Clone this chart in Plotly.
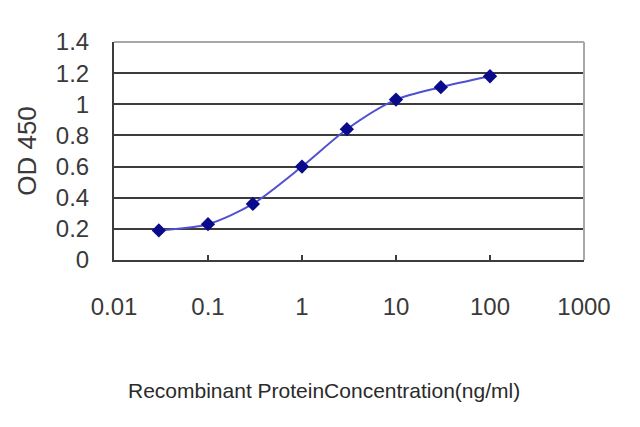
"""
ELISA standard curve - OD 450 vs recombinant protein concentration (log x)
"""
import plotly.graph_objects as go

# region Data
CONC_NGML = [0.03, 0.1, 0.3, 1, 3, 10, 30, 100]
OD_450    = [0.19, 0.23, 0.36, 0.60, 0.84, 1.03, 1.11, 1.18]

X_TICKS = [0.01, 0.1, 1, 10, 100, 1000]
X_TICK_TEXT = ["0.01", "0.1", "1", "10", "100", "1000"]
Y_TICKS = [0, 0.2, 0.4, 0.6, 0.8, 1.0, 1.2, 1.4]
Y_TICK_TEXT = ["0", "0.2", "0.4", "0.6", "0.8", "1", "1.2", "1.4"]
# endregion

FONT = "Liberation Sans Narrow, Arial, Liberation Sans, sans-serif"
TEXT_COLOR = "#3a3a3a"
GRID_COLOR = "#3c3c3c"
LINE_COLOR = "#5050d0"
MARKER_COLOR = "#0a0a8c"

fig = go.Figure()

fig.add_trace(go.Scatter(
    x=CONC_NGML,
    y=OD_450,
    mode="lines+markers",
    line=dict(color=LINE_COLOR, width=2, shape="spline", smoothing=0.8),
    marker=dict(symbol="diamond", size=11, color=MARKER_COLOR,
                line=dict(width=0)),
    showlegend=False,
    cliponaxis=False,
))

# light gray frame on the top and right
fig.add_shape(type="line", xref="paper", yref="paper", x0=0, x1=1, y0=1, y1=1,
              line=dict(color="#a8a8a8", width=2))
fig.add_shape(type="line", xref="paper", yref="paper", x0=1, x1=1, y0=0, y1=1,
              line=dict(color="#a8a8a8", width=2))

# x axis title sits a little left of the plot centre in the original
fig.add_annotation(
    xref="paper", yref="paper",
    x=0.447, y=-0.60,
    xanchor="center", yanchor="middle",
    text="Recombinant ProteinConcentration(ng/ml)",
    showarrow=False,
    font=dict(size=21, family=FONT, color="#2a2a2a"),
)

fig.update_layout(
    width=640, height=427,
    margin=dict(l=106, r=64, t=34, b=175),
    paper_bgcolor="white",
    plot_bgcolor="white",
    font=dict(family=FONT, color=TEXT_COLOR, size=24),
    xaxis=dict(
        type="log",
        range=[-2, 3],
        tickvals=X_TICKS,
        ticktext=X_TICK_TEXT,
        showgrid=False,
        zeroline=False,
        showline=True, linecolor=GRID_COLOR, linewidth=2,
        ticks="inside", ticklen=5, tickwidth=1.5, tickcolor=GRID_COLOR,
        ticklabelstandoff=24,
        tickfont=dict(size=24, family=FONT, color=TEXT_COLOR),
    ),
    yaxis=dict(
        range=[0, 1.4],
        tickvals=Y_TICKS,
        ticktext=Y_TICK_TEXT,
        showgrid=True, gridcolor=GRID_COLOR, gridwidth=2,
        zeroline=False,
        showline=True, linecolor=GRID_COLOR, linewidth=2,
        ticks="",
        ticklabelstandoff=18,
        tickfont=dict(size=24, family=FONT, color=TEXT_COLOR),
        title=dict(text="OD 450",
                   font=dict(size=26, family=FONT, color=TEXT_COLOR),
                   standoff=12),
    ),
)

fig.write_html("out.html")
